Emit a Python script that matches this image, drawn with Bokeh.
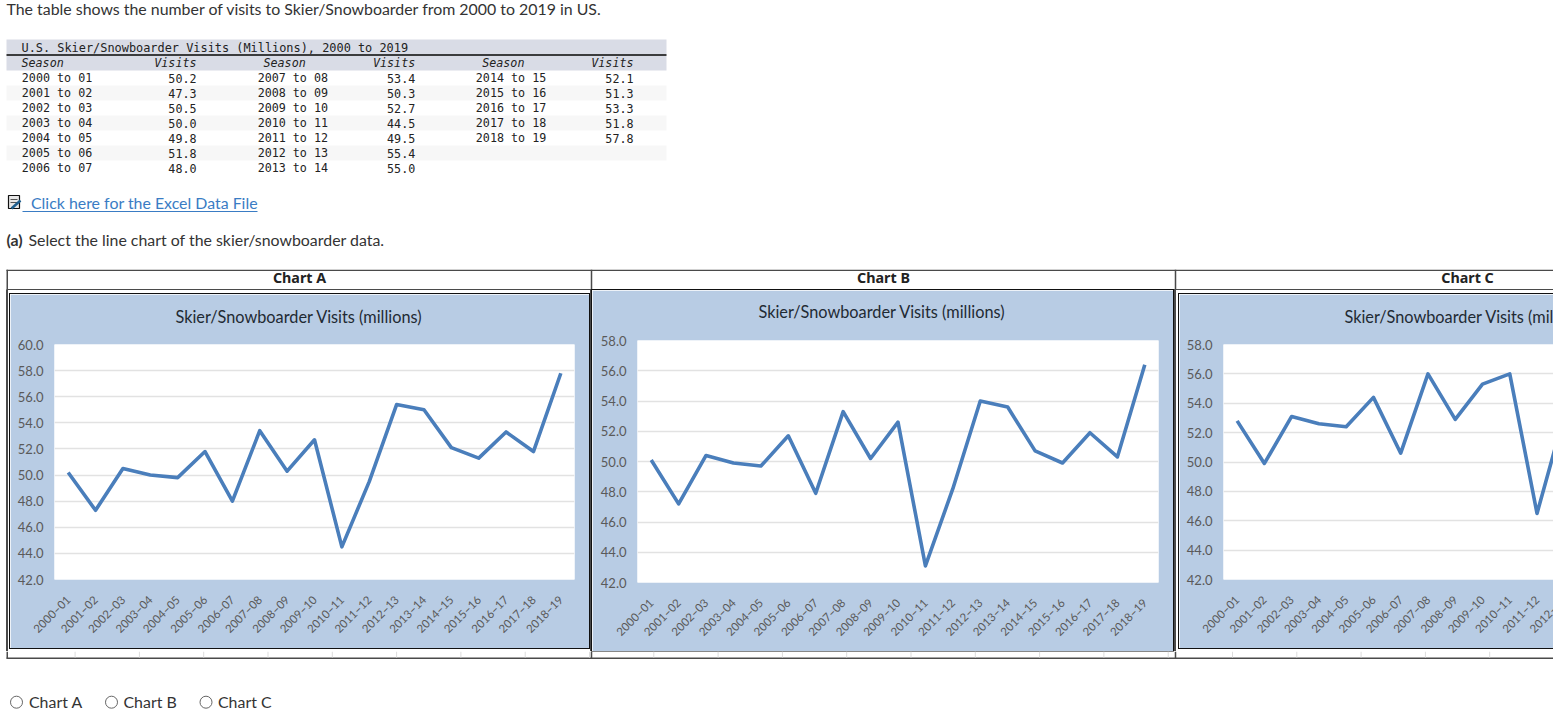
from math import pi
from bokeh.embed import file_html
from bokeh.layouts import column, row
from bokeh.models import (FactorRange, FixedTicker, NumeralTickFormatter, Range1d, Spacer, Title)
from bokeh.plotting import figure
from bokeh.resources import INLINE
from bokeh.core.properties import value

# ---------- data ----------
table_title = "U.S. Skier/Snowboarder Visits (Millions), 2000 to 2019"
intro = "The table shows the number of visits to Skier/Snowboarder from 2000 to 2019 in US."
link_text = "Click here for the Excel Data File"
question = "Select the line chart of the skier/snowboarder data."
chart_title = "Skier/Snowboarder Visits (millions)"

seasons_1 = ["2000 to 01", "2001 to 02", "2002 to 03", "2003 to 04", "2004 to 05", "2005 to 06", "2006 to 07"]
visits_1 = ["50.2", "47.3", "50.5", "50.0", "49.8", "51.8", "48.0"]
seasons_2 = ["2007 to 08", "2008 to 09", "2009 to 10", "2010 to 11", "2011 to 12", "2012 to 13", "2013 to 14"]
visits_2 = ["53.4", "50.3", "52.7", "44.5", "49.5", "55.4", "55.0"]
seasons_3 = ["2014 to 15", "2015 to 16", "2016 to 17", "2017 to 18", "2018 to 19"]
visits_3 = ["52.1", "51.3", "53.3", "51.8", "57.8"]

categories = ["2000–01", "2001–02", "2002–03", "2003–04", "2004–05", "2005–06", "2006–07", "2007–08",
              "2008–09", "2009–10", "2010–11", "2011–12", "2012–13", "2013–14", "2014–15", "2015–16",
              "2016–17", "2017–18", "2018–19"]
chart_a = [50.2, 47.3, 50.5, 50.0, 49.8, 51.8, 48.0, 53.4, 50.3, 52.7, 44.5, 49.5, 55.4, 55.0, 52.1, 51.3, 53.3, 51.8, 57.8]
chart_b = [50.1, 47.2, 50.4, 49.9, 49.7, 51.7, 47.9, 53.3, 50.2, 52.6, 43.1, 48.2, 54.0, 53.6, 50.7, 49.9, 51.9, 50.3, 56.4]
chart_c = [52.8, 49.9, 53.1, 52.6, 52.4, 54.4, 50.6, 56.0, 52.9, 55.3, 56.0, 46.5, 53.2]  # rest is outside the window

TEXT = "#333333"
UI_FONT = "Lato"
UI_SIZE = 15.9
BAND = "#d9dce6"
STRIPE = "#f7f7f7"
PANEL = "#b8cce4"
LINE = "#4a7ebb"
BORDER = "#4a4a4a"
TOP_END = 269        # page y where the table of charts starts
HEAD_END = 290       # page y where its header row ends
ROW_END = 651        # page y where the row of charts ends
PAGE_END = 715


def page_fig(y0, y1):
    f = figure(width=1553, height=y1 - y0, x_range=Range1d(0, 1553), y_range=Range1d(y1, y0),
               output_backend="svg", toolbar_location=None, min_border=0, x_axis_type=None,
               y_axis_type=None, outline_line_color=None, background_fill_color="white",
               border_fill_color="white", margin=0)
    f.xgrid.visible = False
    f.ygrid.visible = False
    return f


def put(f, x, y, t, size, color=TEXT, font=UI_FONT, align="left", style="normal"):
    f.text(x=[x], y=[y], text=[t], text_font=value(font), text_font_size=f"{size}px",
           text_color=color, text_align=align, text_baseline="middle", text_font_style=style)


# ---------- top of the page ----------
top = page_fig(0, TOP_END)
put(top, 6, 8, intro, UI_SIZE)
top.quad(left=[6, 6], right=[666, 666], top=[39, 55], bottom=[54, 70], color=BAND, line_color=None)
top.quad(left=[6, 6, 6], right=[666, 666, 666], top=[85, 115, 145], bottom=[100, 130, 160],
         color=STRIPE, line_color=None)
top.line([6, 666], [54.5, 54.5], line_color="#000000", line_width=1.5)
MONO = "DejaVu Sans Mono"
M_SIZE = 11.7
put(top, 21, 47, table_title, 11.9, "#222222", MONO)
row_y = [77.5, 92.5, 107.5, 122.5, 137.5, 152.5, 167.5]
for season_right, header_x, visit_right, seasons, visits in (
        (91.7, 21, 196, seasons_1, visits_1),
        (327.5, 263, 414.7, seasons_2, visits_2),
        (545.7, 481.7, 633, seasons_3, visits_3)):
    put(top, header_x, 62.5, "Season", M_SIZE, "#222222", MONO, style="italic")
    put(top, visit_right, 62.5, "Visits", M_SIZE, "#222222", MONO, "right", "italic")
    for y, s, v in zip(row_y, seasons, visits):
        put(top, season_right, y, s, M_SIZE, "#222222", MONO, "right")
        put(top, visit_right, y, v, M_SIZE, "#222222", MONO, "right")

# link icon and text
top.quad(left=[8], right=[19], top=[195], bottom=[208], fill_color="#e8e8e8", line_color="#111111", line_width=1.2)
top.line([10, 17], [199, 199], line_color="#555555")
top.line([10, 17], [202, 202], line_color="#555555")
top.line([11, 20], [208, 200], line_color="#1f5f8f", line_width=2.5)
put(top, 30.5, 202, link_text, UI_SIZE, "#3a7cc4")
top.line([22, 257], [211, 211], line_color="#3a7cc4", line_width=1)
put(top, 6, 239, "(a)", UI_SIZE, style="bold")
put(top, 28, 239, question, UI_SIZE)

# ---------- header row of the chart table ----------
rule_x = [6.75, 591, 1175]
head = page_fig(TOP_END, HEAD_END)
head.line([6, 1553], [269.7, 269.7], line_color=BORDER, line_width=1.5)
head.line([6, 1553], [289.2, 289.2], line_color=BORDER, line_width=1.5)
for x in rule_x:
    head.line([x, x], [269, 290], line_color=BORDER, line_width=1.5)
for x, t in ((299, "Chart A"), (883, "Chart B"), (1467, "Chart C")):
    put(head, x, 276.8, t, 14.3, "#222222", "Noto Sans", "center", "bold")


# ---------- the three charts ----------
def chart(panel, frame, borders, gaps, lift_px, ymax, values):
    pl, pt, pr, pb = panel
    fl, ft, fr, fb = frame
    p = figure(width=pr - pl, height=pb - pt, x_range=FactorRange(factors=categories),
               y_range=Range1d(42, ymax), output_backend="svg", toolbar_location=None,
               min_border_left=fl - pl, min_border_right=pr - fr,
               min_border_top=borders[0], min_border_bottom=borders[1],
               outline_line_color=None, background_fill_color="white", border_fill_color=PANEL,
               margin=(pt - HEAD_END, gaps[0], ROW_END - pb, gaps[1]),
               styles={"outline": "1.3px solid #111111"})
    # a tiny blank title first keeps the real title the right distance above the plot area
    p.add_layout(Title(text="\u00a0", text_font_size=f"{lift_px}px"), "above")
    p.add_layout(Title(text=chart_title, align="left", offset=121, text_font="Lato", text_font_size="16.3px",
                       text_font_style="normal", text_color="#1f2a33"), "above")
    p.line(categories[:len(values)], values, line_color=LINE, line_width=3.6, line_join="round")
    p.ygrid.grid_line_color = "#e2e2e2"
    p.ygrid.grid_line_width = 1.5
    p.xgrid.visible = False
    p.yaxis.ticker = FixedTicker(ticks=list(range(42, ymax + 1, 2)))
    p.yaxis.formatter = NumeralTickFormatter(format="0.0")
    for ax in (p.xaxis[0], p.yaxis[0]):
        ax.axis_line_color = None
        ax.major_tick_line_color = None
        ax.minor_tick_line_color = None
        ax.major_tick_out = 0
        ax.major_tick_in = 0
        ax.minor_tick_out = 0
        ax.minor_tick_in = 0
        ax.major_label_text_color = "#5a5a5a"
        ax.major_label_text_font = "Lato"
        ax.major_label_text_font_size = "13px"
    p.xaxis.major_label_text_font_size = "11.5px"
    p.yaxis.major_label_standoff = 11
    p.xaxis.major_label_orientation = pi / 4
    p.xaxis.major_label_standoff = 18
    return p


def rule():
    return Spacer(width=2, height=ROW_END - HEAD_END, margin=0, styles={"background-color": BORDER})


a = chart((10, 294, 589, 648), (54, 343, 574, 581), (47, 65), (1, 2), 2, 60, chart_a)
b = chart((592, 290, 1173, 651), (637, 341, 1158, 582), (50, 69), (1, 0), 3, 58, chart_b)
c = chart((1179, 294, 1772, 648), (1223, 344, 1741, 581), (49, 65), (0, 3), 2, 58, chart_c)
charts = row(Spacer(width=6, height=ROW_END - HEAD_END, margin=0), rule(), a, rule(), b, rule(), c,
             spacing=0, margin=0)

# ---------- below the charts ----------
bottom = page_fig(ROW_END, PAGE_END)
bottom.line([6, 1553], [657.7, 657.7], line_color=BORDER, line_width=1.5)
for x in rule_x:
    bottom.line([x, x], [651, 658], line_color=BORDER, line_width=1.5)
for i in range(25):
    bottom.line([74.6 + i * 64.3] * 2, [651, 657], line_color="#dddddd", line_width=1)
for cx, tx, t in ((16, 28.5, "Chart A"), (111, 123, "Chart B"), (205.5, 217.5, "Chart C")):
    bottom.scatter([cx], [701.7], size=12, marker="circle", fill_color="white", line_color="#666666", line_width=1)
    put(bottom, tx, 701, t, UI_SIZE)

page = column(top, head, charts, bottom, spacing=0, width=1553, height=715,
              margin=0, styles={"overflow": "hidden"})
open("out.html", "w").write(file_html(page, INLINE))
